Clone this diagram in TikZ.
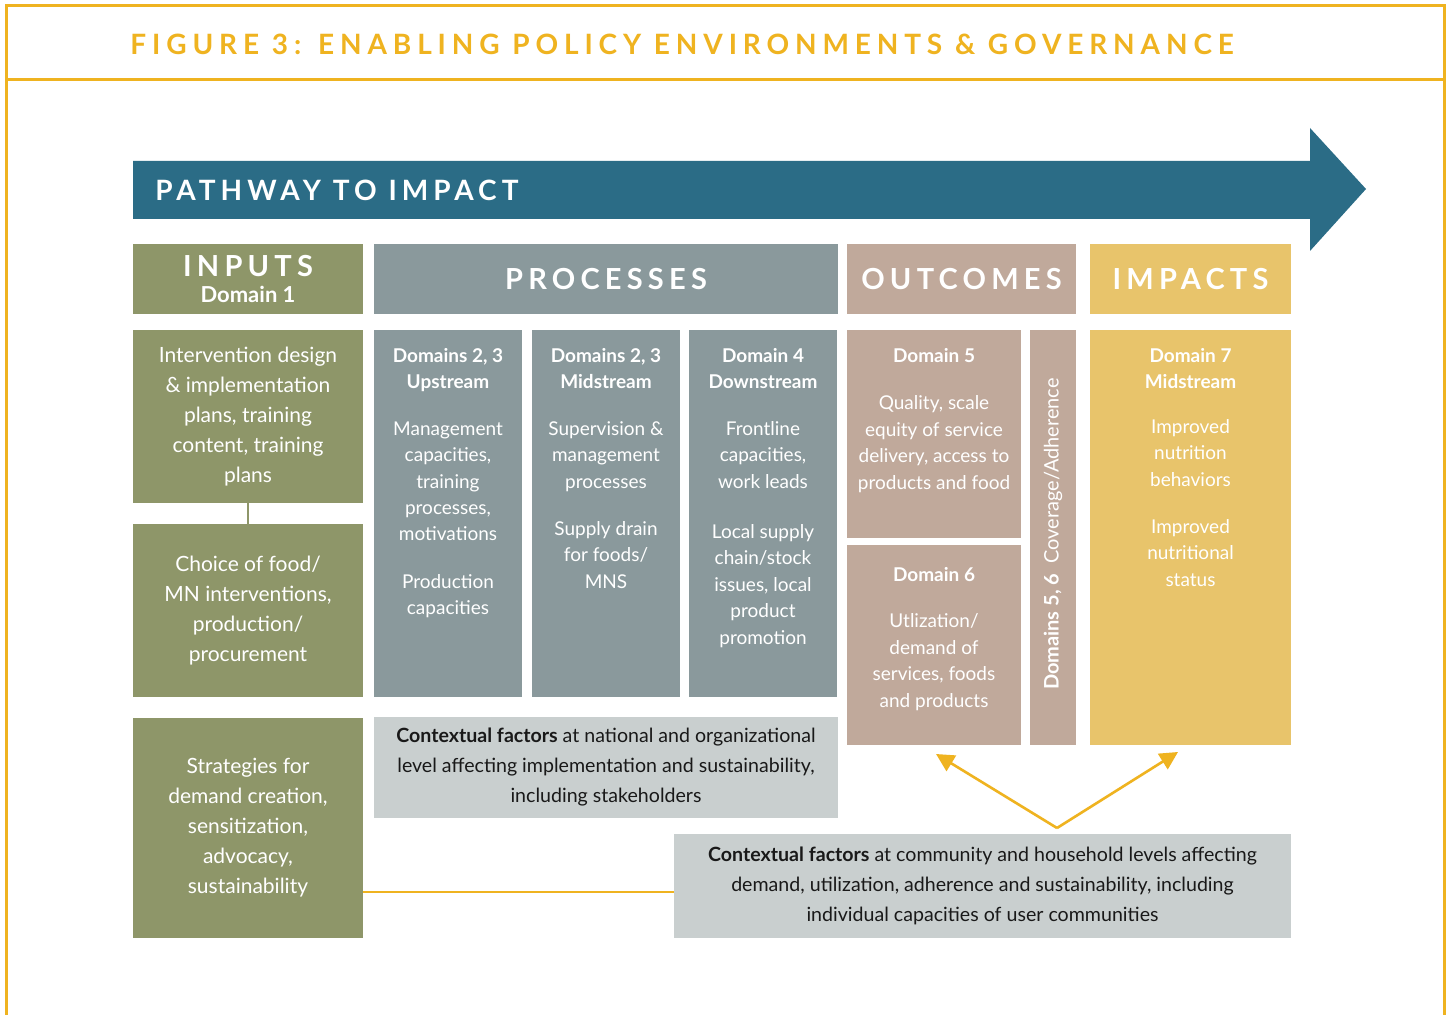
\documentclass[tikz,border=0pt]{standalone}
\usepackage{fontspec}
\setmainfont{Lato}
\usetikzlibrary{positioning,arrows.meta}
\definecolor{gold}{HTML}{EFB320}
\definecolor{pathblue}{HTML}{2B6C86}
\definecolor{olive}{HTML}{8E9669}
\definecolor{slate}{HTML}{8A999C}
\definecolor{taupe}{HTML}{C0A99B}
\definecolor{sand}{HTML}{E8C46B}
\definecolor{mist}{HTML}{C9CFCF}
\newcommand{\trackfont}{\bfseries\fontsize{14.5}{16}\selectfont\addfontfeatures{LetterSpace=18}}
\begin{document}
\begin{tikzpicture}
    [
    x=0.5pt, y=-0.5pt,
    cell/.style={inner sep=0pt, outer sep=0pt, text=white, align=center},
    body/.style={inner sep=0pt, text=white, align=center, font=\fontsize{9.5}{13.2}\selectfont},
    inbody/.style={font=\fontsize{10.5}{15}\selectfont},
    ctx/.style={cell, fill=mist, text=black!90, font=\fontsize{9.8}{15}\selectfont},
    link/.style={draw=gold, line width=1.3pt}
    ]
    \useasboundingbox (0,0) rectangle (1450,1015);
    \fill [white] (0,0) rectangle (1450,1015);
    \draw [gold, line width=1.5pt] (6,1015) -- (6,6) -- (1444,6) -- (1444,1015);
    \draw [gold, line width=1.5pt] (6,80) -- (1444,80);
    \node (title) at (130,44) [anchor=west, text=gold, inner sep=0pt,
      font=\bfseries\fontsize{14}{16}\selectfont\addfontfeatures{LetterSpace=21}]
      {FIGURE 3: ENABLING POLICY ENVIRONMENTS \& GOVERNANCE};
    \fill [pathblue] (133,161) -- (1310,161) -- (1310,128) -- (1366,189)
      -- (1310,251) -- (1310,219) -- (133,219) -- cycle;
    \node (pathway) at (155,190) [anchor=west, inner sep=0pt, text=white,
      font=\bfseries\fontsize{14}{16}\selectfont\addfontfeatures{LetterSpace=18}] {PATHWAY TO IMPACT};
    \node (inhead) at (248,279) [cell, fill=olive, minimum width=115pt, minimum height=35pt,
      font=\bfseries\fontsize{11}{13}\selectfont]
      {{\trackfont INPUTS}\\ Domain 1};
    \node (prochead) at (606,279) [cell, fill=slate, minimum width=232pt, minimum height=35pt] {\trackfont PROCESSES};
    \node (outhead) at (961.5,279) [cell, fill=taupe, minimum width=114.5pt, minimum height=35pt] {\trackfont OUTCOMES};
    \node (imphead) at (1190.5,279) [cell, fill=sand, minimum width=100.5pt, minimum height=35pt] {\trackfont IMPACTS};
    \node (in1) at (248,416.5) [cell, inbody, fill=olive, minimum width=115pt, minimum height=86.5pt]
      {Intervention design\\ \& implementation\\ plans, training\\ content, training\\ plans};
    \node (in2) at (248,610.5) [cell, inbody, fill=olive, minimum width=115pt, minimum height=86.5pt]
      {Choice of food/\\ MN interventions,\\ production/\\ procurement};
    \node (in3) at (248,828) [cell, inbody, fill=olive, minimum width=115pt, minimum height=110pt]
      {Strategies for\\ demand creation,\\ sensitization,\\ advocacy,\\ sustainability};
    \draw [olive, line width=1pt] (in1) to (in2);
    \node (p1) at (448,513.5) [cell, fill=slate, minimum width=74pt, minimum height=183.5pt] {};
    \node (p2) at (606,513.5) [cell, fill=slate, minimum width=74pt, minimum height=183.5pt] {};
    \node (p3) at (763,513.5) [cell, fill=slate, minimum width=74pt, minimum height=183.5pt] {};
    \node (p1text) [body, below=9pt of p1.north]
      {\textbf{Domains 2, 3}\\ \textbf{Upstream}\\[10pt] Management\\ capacities,\\ training\\ processes,\\ motivations\\[10.5pt] Production\\ capacities};
    \node (p2text) [body, below=9pt of p2.north]
      {\textbf{Domains 2, 3}\\ \textbf{Midstream}\\[10pt] Supervision \&\\ management\\ processes\\[10.5pt] Supply drain\\ for foods/\\ MNS};
    \node (p3text) [body, below=9pt of p3.north]
      {\textbf{Domain 4}\\ \textbf{Downstream}\\[10pt] Frontline\\ capacities,\\ work leads\\[12pt] Local supply\\ chain/stock\\ issues, local\\ product\\ promotion};
    \node (d5) at (934,434) [cell, fill=taupe, minimum width=87pt, minimum height=104pt] {};
    \node (d6) at (934,645) [cell, fill=taupe, minimum width=87pt, minimum height=100pt] {};
    \node (cov) at (1053,537.5) [cell, fill=taupe, minimum width=23pt, minimum height=207.5pt] {};
    \node (imp) at (1190.5,537.5) [cell, fill=sand, minimum width=100.5pt, minimum height=207.5pt] {};
    \node (d5text) [body, below=9pt of d5.north]
      {\textbf{Domain 5}\\[10.5pt] Quality, scale\\ equity of service\\ delivery, access to\\ products and food};
    \node (d6text) [body, below=11pt of d6.north]
      {\textbf{Domain 6}\\[10pt] Utlization/\\ demand of\\ services, foods\\ and products};
    \node (covtext) at (1053,534) [rotate=90, inner sep=0pt, text=white, font=\fontsize{10}{12}\selectfont]
      {\textbf{Domains 5, 6}\ \ Coverage/Adherence};
    \node (imptext) [body, below=9pt of imp.north]
      {\textbf{Domain 7}\\ \textbf{Midstream}\\[9pt] Improved\\ nutrition\\ behaviors\\[10.5pt] Improved\\ nutritional\\ status};
    \node (ctx1) at (606,767.5) [ctx, minimum width=232pt, minimum height=50.5pt]
      {\textbf{Contextual factors} at national and organizational\\ level affecting implementation and sustainability,\\ including stakeholders};
    \node (ctx2) at (982.5,886) [ctx, minimum width=308.5pt, minimum height=52pt]
      {\textbf{Contextual factors} at community and household levels affecting\\ demand, utilization, adherence and sustainability, including\\ individual capacities of user communities};
    \draw [link] (in3.east |- 0,892) to (ctx2.west |- 0,892);
    \coordinate (apex) at (1057,828);
    \coordinate (tipL) at (936,754);
    \coordinate (tipR) at (1178,752);
    \draw [link, -{Triangle[length=9pt, width=9pt]}] (apex) to (tipL);
    \draw [link, -{Triangle[length=9pt, width=9pt]}] (apex) to (tipR);
  \end{tikzpicture}
\end{document}
